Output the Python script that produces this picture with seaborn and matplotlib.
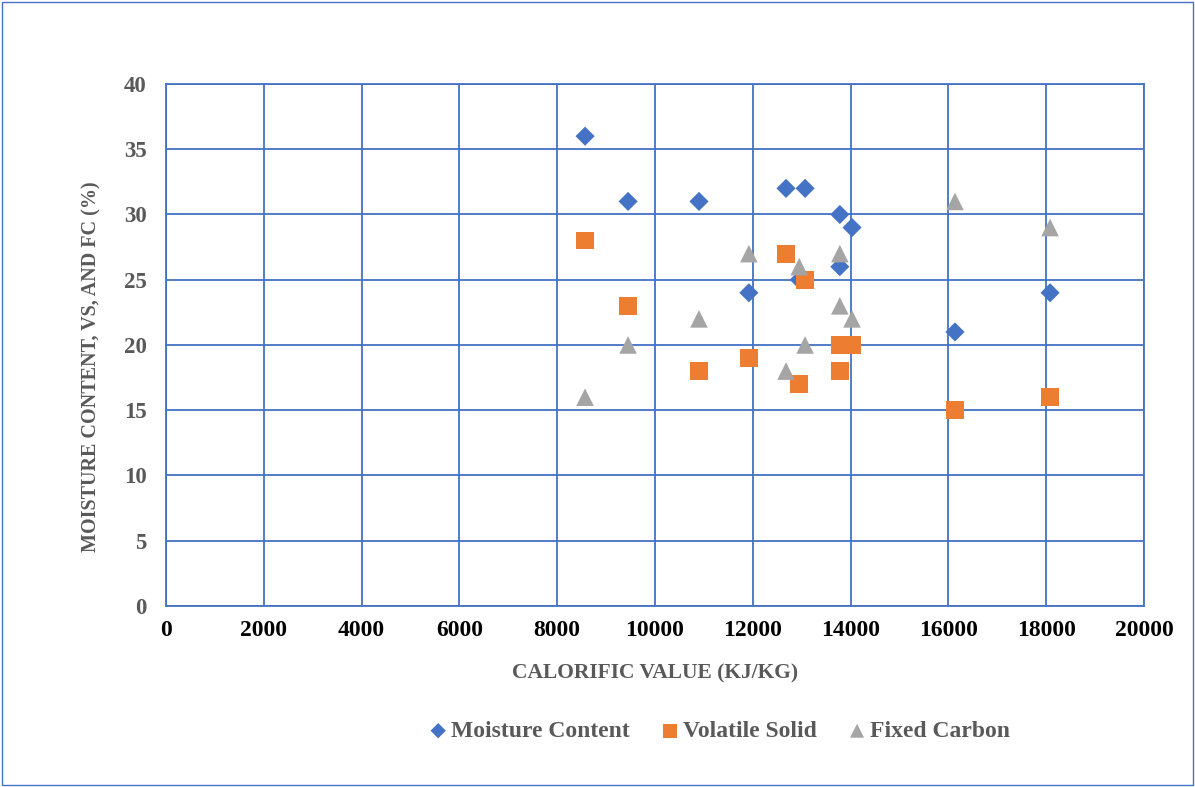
import seaborn as sns
import matplotlib.pyplot as plt
import pandas as pd
from matplotlib.patches import Rectangle

# datos
calorific = [8570, 9450, 10900, 11920, 12680, 12950, 13070, 13780, 13780, 14030, 16135, 18080]
moisture = [36, 31, 31, 24, 32, 25, 32, 30, 26, 29, 21, 24]
volatile = [28, 23, 18, 19, 27, 17, 25, 20, 18, 20, 15, 16]
fixed_carbon = [16, 20, 22, 27, 18, 26, 20, 27, 23, 22, 31, 29]

series = ["Moisture Content", "Volatile Solid", "Fixed Carbon"]
colores = {"Moisture Content": "#4472C4", "Volatile Solid": "#ED7D31", "Fixed Carbon": "#A5A5A5"}
marcadores = {"Moisture Content": "D", "Volatile Solid": "s", "Fixed Carbon": "^"}
tamanos = {"Moisture Content": 95, "Volatile Solid": 165, "Fixed Carbon": 160}

df = pd.DataFrame({
    "cv": calorific * 3,
    "valor": moisture + volatile + fixed_carbon,
    "serie": [s for s in series for _ in calorific],
})

sns.set_style("white")
plt.rcParams["font.family"] = ["Liberation Serif", "DejaVu Serif"]
plt.rcParams["font.weight"] = "bold"

fig = plt.figure(figsize=(11.95, 7.87), dpi=100)
ax = fig.add_axes([0.1389, 0.23, 0.8184, 0.6633])

for s in series:
    sns.scatterplot(data=df[df["serie"] == s], x="cv", y="valor", marker=marcadores[s],
                    color=colores[s], s=tamanos[s], edgecolor="none", label=s, ax=ax, zorder=3)

ax.set_xlim(0, 20000)
ax.set_ylim(0, 40)
ax.set_xticks(range(0, 20001, 2000))
ax.set_yticks(range(0, 41, 5))
ax.grid(True, color="#4472C4", linewidth=1.3)
ax.set_axisbelow(True)
for sp in ax.spines.values():
    sp.set_color("#4472C4")
    sp.set_linewidth(1.3)
ax.tick_params(length=0)
ax.tick_params(axis="x", labelsize=17, labelcolor="black", pad=10)
ax.tick_params(axis="y", labelsize=16.5, labelcolor="#595959", pad=14)
for t in ax.get_xticklabels() + ax.get_yticklabels():
    t.set_fontweight("bold")

# titulos y etiquetas
ax.set_xlabel("CALORIFIC VALUE (KJ/KG)", fontsize=15.5, color="#595959", fontweight="bold")
ax.set_ylabel("MOISTURE CONTENT, VS, AND FC (%)", fontsize=14.5, color="#595959", fontweight="bold")
ax.xaxis.set_label_coords(0.5, -0.11)
ax.yaxis.set_label_coords(-0.066, 0.458)

ax.legend(loc="center", bbox_to_anchor=(0.602, 0.071), bbox_transform=fig.transFigure, ncol=3,
          frameon=False, labelcolor="#595959", handlelength=0.8, handletextpad=0.15,
          columnspacing=1.3, markerscale=0.8, prop={"weight": "bold", "size": 17})

# borde de la figura
fig.patches.append(Rectangle((0.002, 0.002), 0.996, 0.996, transform=fig.transFigure,
                             fill=False, edgecolor="#4472C4", linewidth=1.0))

plt.savefig("out.png", dpi=100)
